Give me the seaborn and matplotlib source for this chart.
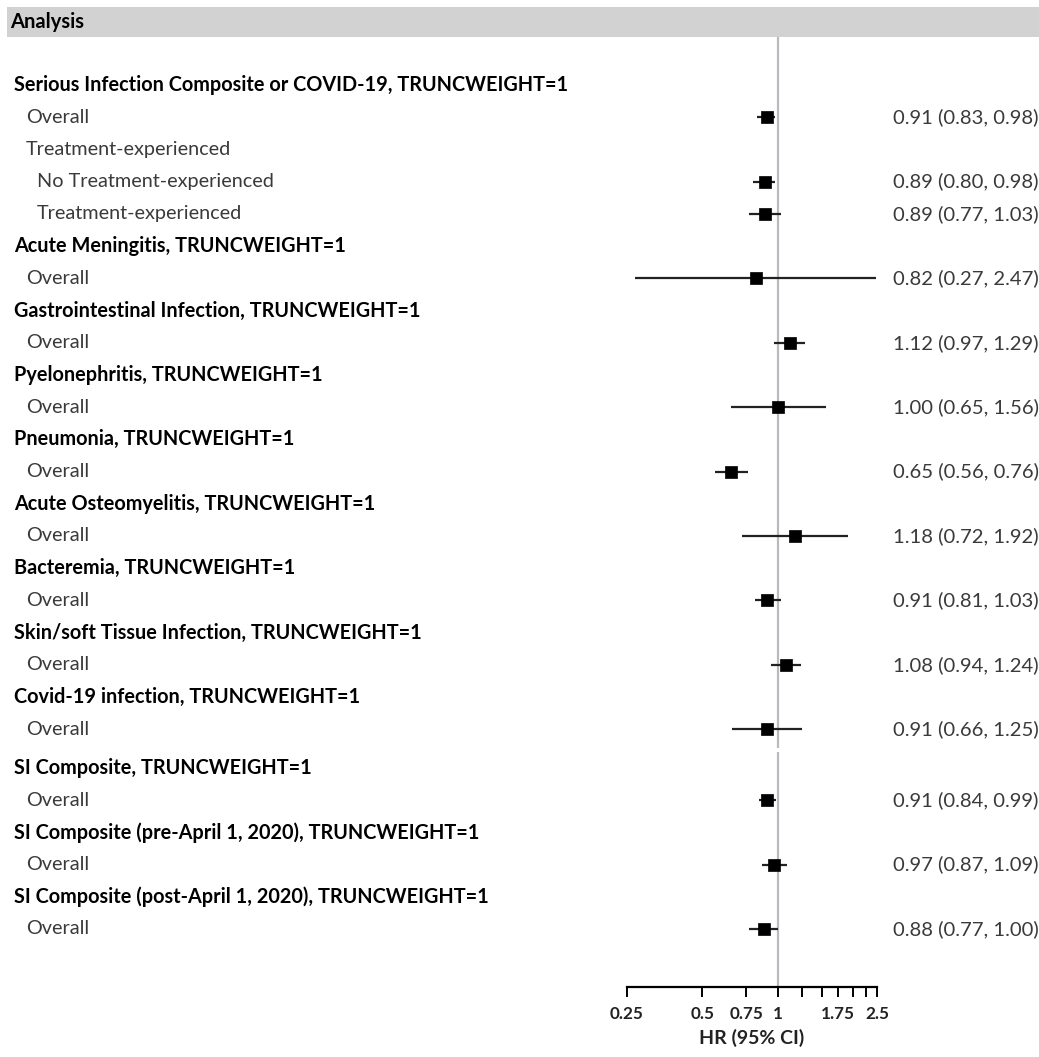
import matplotlib
matplotlib.use("Agg")
import matplotlib.pyplot as plt
import matplotlib.transforms as mtransforms
from matplotlib.patches import Rectangle
import seaborn as sns
import pandas as pd
import numpy as np

sns.set_theme(style="white")
plt.rcParams['font.family'] = ['Lato', 'DejaVu Sans']

labels = [
    "Serious Infection Composite or COVID-19, TRUNCWEIGHT=1",
    "Overall",
    "Treatment-experienced",
    "No Treatment-experienced",
    "Treatment-experienced",
    "Acute Meningitis, TRUNCWEIGHT=1",
    "Overall",
    "Gastrointestinal Infection, TRUNCWEIGHT=1",
    "Overall",
    "Pyelonephritis, TRUNCWEIGHT=1",
    "Overall",
    "Pneumonia, TRUNCWEIGHT=1",
    "Overall",
    "Acute Osteomyelitis, TRUNCWEIGHT=1",
    "Overall",
    "Bacteremia, TRUNCWEIGHT=1",
    "Overall",
    "Skin/soft Tissue Infection, TRUNCWEIGHT=1",
    "Overall",
    "Covid-19 infection, TRUNCWEIGHT=1",
    "Overall",
    "SI Composite, TRUNCWEIGHT=1",
    "Overall",
    "SI Composite (pre-April 1, 2020), TRUNCWEIGHT=1",
    "Overall",
    "SI Composite (post-April 1, 2020), TRUNCWEIGHT=1",
    "Overall",
]
levels = [0, 1, 1, 2, 2, 0, 1, 0, 1, 0, 1, 0, 1, 0, 1, 0, 1, 0, 1, 0, 1, 0, 1, 0, 1, 0, 1]
hr = [None, 0.91, None, 0.89, 0.89, None, 0.82, None, 1.12, None, 1.00, None, 0.65,
      None, 1.18, None, 0.91, None, 1.08, None, 0.91, None, 0.91, None, 0.97, None, 0.88]
lo = [None, 0.83, None, 0.80, 0.77, None, 0.27, None, 0.97, None, 0.65, None, 0.56,
      None, 0.72, None, 0.81, None, 0.94, None, 0.66, None, 0.84, None, 0.87, None, 0.77]
hi = [None, 0.98, None, 0.98, 1.03, None, 2.47, None, 1.29, None, 1.56, None, 0.76,
      None, 1.92, None, 1.03, None, 1.24, None, 1.25, None, 0.99, None, 1.09, None, 1.00]

tick_values = [0.25, 0.5, 0.75, 1, 1.25, 1.5, 1.75, 2, 2.25, 2.5]
tick_labels = ["0.25", "0.5", "0.75", "1", "", "", "1.75", "", "", "2.5"]

W, H = 1039, 1057
fig = plt.figure(figsize=(W / 100, H / 100), dpi=100)

# layout
ax_left, ax_right, ax_top, ax_bot = 627, 877, 37, 987
ax = fig.add_axes([ax_left / W, 1 - ax_bot / H, (ax_right - ax_left) / W, (ax_bot - ax_top) / H])

idx = np.arange(len(labels))
ypos = idx + np.where(idx >= 21, 0.2, 0.0)

df = pd.DataFrame({"label": labels, "level": levels, "hr": hr, "lo": lo, "hi": hi, "y": ypos})
dd = df.dropna(subset=["hr"]).copy()
dd[["hr", "lo", "hi"]] = dd[["hr", "lo", "hi"]].astype(float)

row_px = 32.2
ax.set_xscale("log")
ax.set_xlim(0.25, 2.5)
ax.set_ylim(ypos[-1] + (ax_bot - 929) / row_px, -(85 - ax_top) / row_px)

# reference line with small break before SI composite
gap_a = 20 + (748 - 729) / row_px
gap_b = 20 + (752 - 729) / row_px
ylo, yhi = ax.get_ylim()
ax.vlines(1, yhi, gap_a, color="#b7bbbf", lw=1.6, zorder=1)
ax.vlines(1, gap_b, ylo, color="#b7bbbf", lw=1.6, zorder=1)

ax.hlines(dd["y"], dd["lo"], dd["hi"], color="#222222", lw=1.6, zorder=2)
sns.scatterplot(data=dd, x="hr", y="y", marker="s", s=85, color="black",
                edgecolor="black", linewidth=0.5, ax=ax, zorder=3, legend=False)

for s in ["top", "right", "left"]:
    ax.spines[s].set_visible(False)
ax.spines["bottom"].set_color("black")
ax.spines["bottom"].set_linewidth(1.6)
ax.set_yticks([])
ax.set_xticks(tick_values)
ax.set_xticklabels(tick_labels, fontsize=12.3, fontweight="bold", color="#222222")
ax.xaxis.set_minor_locator(matplotlib.ticker.NullLocator())
ax.tick_params(axis="x", which="major", direction="out", length=7, width=1.4,
               color="black", pad=7, bottom=True)
ax.set_xlabel("HR (95% CI)", fontsize=14, fontweight="bold", labelpad=5, color="#222222")
ax.set_ylabel("")
ax.patch.set_alpha(0)

# header band
fig.patches.append(Rectangle((7 / W, 1 - 37 / H), 1 - 7 / W, 30 / H,
                             transform=fig.transFigure, facecolor="#d2d2d2",
                             edgecolor="none", zorder=0))
fig.text(10 / W, 1 - 22 / H, "Analysis", fontsize=14.5, fontweight="bold",
         va="center", ha="left", color="black")

trans = mtransforms.blended_transform_factory(fig.transFigure, ax.transData)
indent_px = {0: 14, 1: 26, 2: 37}
for _, r in df.iterrows():
    bold = r["level"] == 0
    ax.text(indent_px[r["level"]] / W, r["y"], r["label"], transform=trans,
            fontsize=14.3, fontweight="bold" if bold else "normal",
            color="black" if bold else "#3a3a3a", va="center", ha="left", clip_on=False)
for _, r in dd.iterrows():
    ax.text(893 / W, r["y"], f"{r['hr']:.2f} ({r['lo']:.2f}, {r['hi']:.2f})",
            transform=trans, fontsize=14.6, color="#3a3a3a", va="center", ha="left",
            clip_on=False)

fig.savefig("out.png", dpi=100)
